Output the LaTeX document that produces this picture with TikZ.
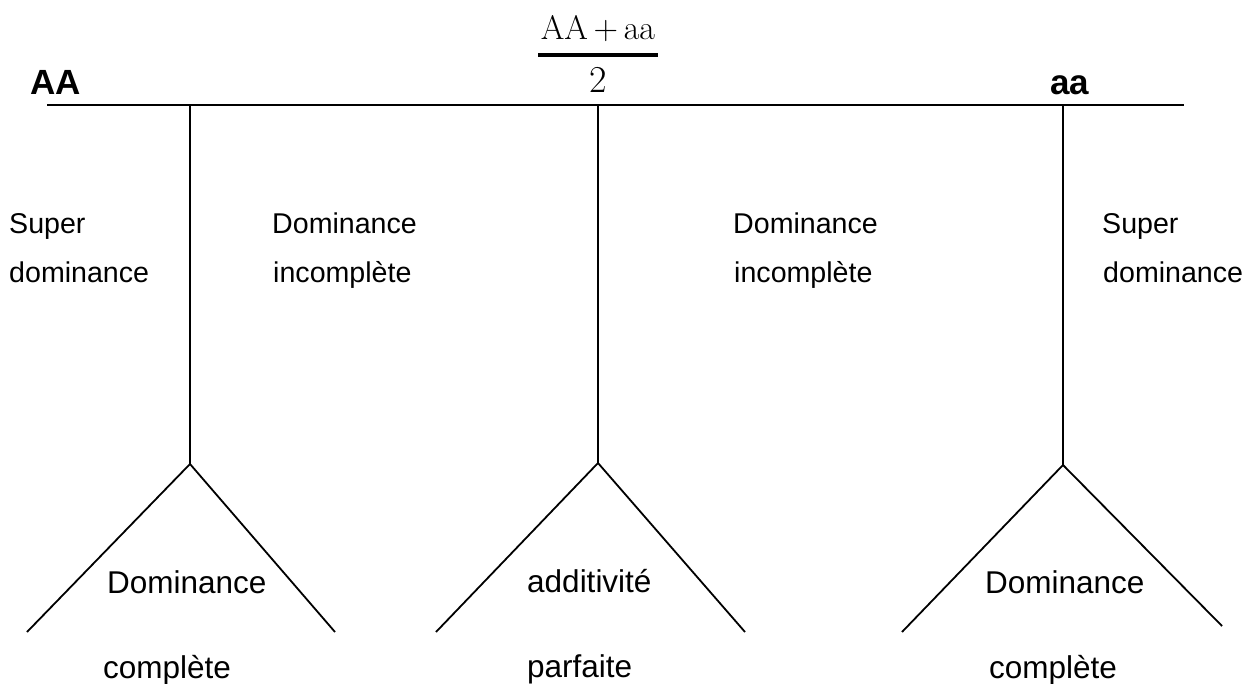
\documentclass[tikz,border=0pt]{standalone}
\usepackage{fontspec}
\setsansfont{Liberation Sans}
\begin{document}
\begin{tikzpicture}[x=1pt,y=-1pt,
  ln/.style={line width=1.8pt,black},
  midlbl/.style={anchor=base west,inner sep=0pt,font=\sffamily\fontsize{28.6}{32}\selectfont},
  botlbl/.style={anchor=base west,inner sep=0pt,font=\sffamily\fontsize{31.5}{36}\selectfont},
  endlbl/.style={anchor=base west,inner sep=0pt,font=\sffamily\bfseries\fontsize{35}{40}\selectfont},
  fraclbl/.style={anchor=base,inner sep=0pt,font=\rmfamily\fontsize{34}{40}\selectfont}]
\useasboundingbox (0,0) rectangle (1257,684);
% coordinates
\coordinate (L0) at (47,105);
\coordinate (R0) at (1184,105);
\coordinate (t1) at (190,105); \coordinate (a1) at (190,464);
\coordinate (l1) at (27,632);  \coordinate (r1) at (335,632);
\coordinate (t2) at (598,105); \coordinate (a2) at (598,463);
\coordinate (l2) at (436,632); \coordinate (r2) at (745,632);
\coordinate (t3) at (1063,105); \coordinate (a3) at (1063,465);
\coordinate (l3) at (902,632); \coordinate (r3) at (1222,626);
% lines
\draw[ln] (L0) -- (R0);
\draw[ln] (t1) -- (a1); \draw[ln] (l1) -- (a1) -- (r1);
\draw[ln] (t2) -- (a2); \draw[ln] (l2) -- (a2) -- (r2);
\draw[ln] (t3) -- (a3); \draw[ln] (l3) -- (a3) -- (r3);
% top labels
\node[endlbl] (AA) at (30,95) {AA};
\node[endlbl] (aa) at (1050,95) {aa};
\node[fraclbl] (num) at (598,40) {AA\,+\,aa};
\coordinate (b1) at (538,55.5); \coordinate (b2) at (658,55.5);
\draw[line width=4pt] (b1) -- (b2);
\node[fraclbl,font=\rmfamily\fontsize{38}{42}\selectfont] (den) at (598.5,93) {2};
% middle labels
\node[midlbl] (s1) at (9,234) {Super};
\node[midlbl] (s2) at (9,283) {dominance};
\node[midlbl] (d1) at (272,234) {Dominance};
\node[midlbl] (d2) at (273,283) {incomplète};
\node[midlbl] (d3) at (733,234) {Dominance};
\node[midlbl] (d4) at (734,283) {incomplète};
\node[midlbl] (s3) at (1102,234) {Super};
\node[midlbl] (s4) at (1103,283) {dominance};
% bottom labels
\node[botlbl] (c1) at (107,593) {Dominance};
\node[botlbl] (c2) at (103,678) {complète};
\node[botlbl] (p1) at (527,592) {additivité};
\node[botlbl] (p2) at (527,677) {parfaite};
\node[botlbl] (c3) at (985,593) {Dominance};
\node[botlbl] (c4) at (989,678) {complète};
\end{tikzpicture}
\end{document}
